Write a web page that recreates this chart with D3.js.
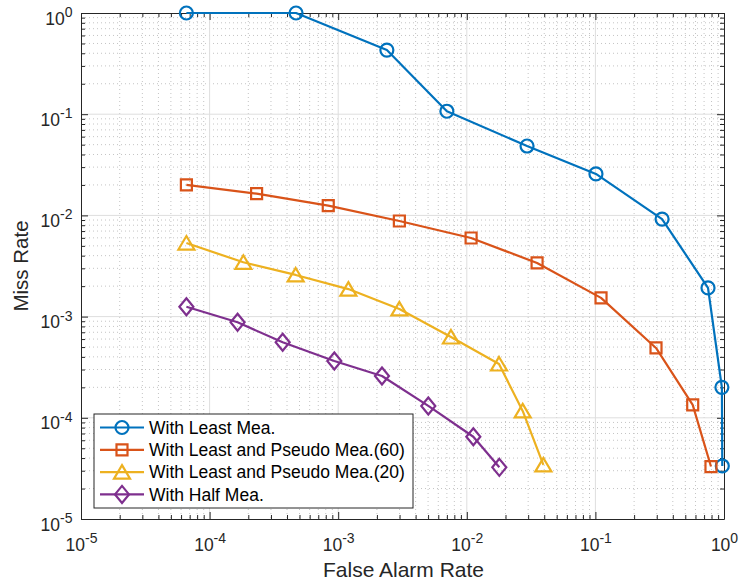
<!DOCTYPE html>
<html>
<head>
<meta charset="utf-8">
<script src="https://cdn.jsdelivr.net/npm/d3@7"></script>
<style>
  html, body { margin: 0; padding: 0; background: #fff; }
  svg { display: block; font-family: "Liberation Sans", Arial, Helvetica, sans-serif; }
</style>
</head>
<body>
<svg id="chart" width="739" height="586"></svg>
<script>
// ---- data ----
const seriesNames = ["With Least Mea.", "With Least and Pseudo Mea.(60)", "With Least and Pseudo Mea.(20)", "With Half Mea."];
const leastFA   = [6.6e-5, 4.7e-4, 2.39e-3, 7.0e-3, 0.0294, 0.101, 0.33, 0.751, 0.963, 0.97];
const leastMR   = [1.0, 1.0, 0.43, 0.107, 0.0485, 0.0257, 9.2e-3, 1.92e-3, 2.0e-4, 3.34e-5];
const pseudo60FA = [6.6e-5, 2.32e-4, 8.37e-4, 2.99e-3, 0.0108, 0.0352, 0.1106, 0.296, 0.571, 0.792];
const pseudo60MR = [0.0200, 0.0164, 0.0125, 8.8e-3, 5.98e-3, 3.39e-3, 1.53e-3, 4.9e-4, 1.34e-4, 3.3e-5];
const pseudo20FA = [6.6e-5, 1.83e-4, 4.67e-4, 1.2e-3, 2.99e-3, 7.53e-3, 0.0178, 0.0272, 0.0394];
const pseudo20MR = [5.33e-3, 3.44e-3, 2.58e-3, 1.87e-3, 1.19e-3, 6.29e-4, 3.4e-4, 1.17e-4, 3.42e-5];
const halfFA = [6.6e-5, 1.65e-4, 3.7e-4, 9.33e-4, 2.19e-3, 5.02e-3, 0.01124, 0.0179];
const halfMR = [1.25e-3, 8.78e-4, 5.57e-4, 3.64e-4, 2.59e-4, 1.31e-4, 6.5e-5, 3.24e-5];
const xTickExps = [-5, -4, -3, -2, -1, 0];
const yTickExps = [-5, -4, -3, -2, -1, 0];
const xLabel = "False Alarm Rate";
const yLabel = "Miss Rate";

const colors = ["#0072BD", "#D95319", "#EDB120", "#7E2F8E"];
const markers = ["circle", "square", "triangle", "diamond"];
const series = [
  {name: seriesNames[0], fa: leastFA, mr: leastMR},
  {name: seriesNames[1], fa: pseudo60FA, mr: pseudo60MR},
  {name: seriesNames[2], fa: pseudo20FA, mr: pseudo20MR},
  {name: seriesNames[3], fa: halfFA, mr: halfMR}
];

// ---- layout ----
const L = 81, R = 724, T = 13, B = 519;
const svg = d3.select("#chart");
const x = d3.scaleLog().domain([1e-5, 1]).range([L, R]);
const y = d3.scaleLog().domain([1e-5, 1]).range([B, T]);

const majorX = xTickExps.map(e => Math.pow(10, e));
const majorY = yTickExps.map(e => Math.pow(10, e));
const minorVals = [];
for (let e = -5; e < 0; e++) for (let k = 2; k <= 9; k++) minorVals.push(k * Math.pow(10, e));

// ---- grid ----
const grid = svg.append("g");
grid.selectAll(".mgx").data(minorVals).join("line")
  .attr("x1", d => x(d)).attr("x2", d => x(d)).attr("y1", T).attr("y2", B)
  .attr("stroke", "#c4c4c4").attr("stroke-width", 1).attr("stroke-dasharray", "1,3");
grid.selectAll(".mgy").data(minorVals).join("line")
  .attr("y1", d => y(d)).attr("y2", d => y(d)).attr("x1", L).attr("x2", R)
  .attr("stroke", "#c4c4c4").attr("stroke-width", 1).attr("stroke-dasharray", "1,3");
grid.selectAll(".Mgx").data(majorX.slice(1, -1)).join("line")
  .attr("x1", d => x(d)).attr("x2", d => x(d)).attr("y1", T).attr("y2", B)
  .attr("stroke", "#dedede").attr("stroke-width", 1);
grid.selectAll(".Mgy").data(majorY.slice(1, -1)).join("line")
  .attr("y1", d => y(d)).attr("y2", d => y(d)).attr("x1", L).attr("x2", R)
  .attr("stroke", "#dedede").attr("stroke-width", 1);

// ---- axes ----
function supLabels(sel) {
  sel.selectAll("text").each(function(d) {
    const t = d3.select(this);
    const e = Math.round(Math.log10(d));
    t.text(null);
    t.append("tspan").text("10");
    t.append("tspan").attr("font-size", 14).attr("dy", -7.5).text(String(e));
  });
}
const axisColor = "#262626";
function styleAxis(g) {
  g.selectAll("path.domain").attr("stroke", axisColor).attr("stroke-width", 1);
  g.selectAll(".tick line").attr("stroke", axisColor);
  g.selectAll("text").attr("fill", axisColor).attr("font-size", 17.5);
}
// bottom
const gB = svg.append("g").attr("transform", `translate(0,${B})`)
  .call(d3.axisBottom(x).tickValues(majorX).tickSizeInner(-7).tickSizeOuter(0).tickPadding(0));
styleAxis(gB); supLabels(gB);
gB.selectAll("text").attr("y", 31.7).attr("dy", 0).attr("text-anchor", "middle");
svg.append("g").attr("transform", `translate(0,${B})`)
  .call(d3.axisBottom(x).tickValues(minorVals).tickSizeInner(-4).tickSizeOuter(0).tickFormat(""))
  .call(styleAxis).select("path.domain").remove();
// top
const gT = svg.append("g").attr("transform", `translate(0,${T})`)
  .call(d3.axisTop(x).tickValues(majorX).tickSizeInner(-7).tickSizeOuter(0).tickFormat(""));
styleAxis(gT);
svg.append("g").attr("transform", `translate(0,${T})`)
  .call(d3.axisTop(x).tickValues(minorVals).tickSizeInner(-4).tickSizeOuter(0).tickFormat(""))
  .call(styleAxis).select("path.domain").remove();
// left
const gL = svg.append("g").attr("transform", `translate(${L},0)`)
  .call(d3.axisLeft(y).tickValues(majorY).tickSizeInner(-7).tickSizeOuter(0).tickPadding(8.5));
styleAxis(gL); supLabels(gL);
gL.selectAll("text").attr("dy", 11);
svg.append("g").attr("transform", `translate(${L},0)`)
  .call(d3.axisLeft(y).tickValues(minorVals).tickSizeInner(-4).tickSizeOuter(0).tickFormat(""))
  .call(styleAxis).select("path.domain").remove();
// right
const gR = svg.append("g").attr("transform", `translate(${R},0)`)
  .call(d3.axisRight(y).tickValues(majorY).tickSizeInner(-7).tickSizeOuter(0).tickFormat(""));
styleAxis(gR);
svg.append("g").attr("transform", `translate(${R},0)`)
  .call(d3.axisRight(y).tickValues(minorVals).tickSizeInner(-4).tickSizeOuter(0).tickFormat(""))
  .call(styleAxis).select("path.domain").remove();

// axis labels
svg.append("text").attr("x", (L + R) / 2 + 1).attr("y", 577).attr("text-anchor", "middle")
  .attr("font-size", 21).attr("fill", axisColor).text(xLabel);
svg.append("text").attr("transform", `translate(28,${(T + B) / 2}) rotate(-90)`)
  .attr("text-anchor", "middle").attr("font-size", 20.5).attr("fill", axisColor).text(yLabel);

// ---- markers ----
function markerPath(type) {
  if (type === "square") return "M-5.5,-5.5H5.5V5.5H-5.5Z";
  if (type === "triangle") return "M0,-7L8,6.5H-8Z";
  if (type === "diamond") return "M0,-8.5L7,0L0,8.5L-7,0Z";
  return d3.symbol(d3.symbolCircle, Math.PI * 6.5 * 6.5)();
}

// ---- series ----
const line = d3.line().x(d => x(d[0])).y(d => y(d[1]));
series.forEach((s, i) => {
  const pts = s.fa.map((v, j) => [v, s.mr[j]]);
  const g = svg.append("g");
  g.append("path").datum(pts).attr("d", line).attr("fill", "none")
    .attr("stroke", colors[i]).attr("stroke-width", 2.2).attr("stroke-linejoin", "round");
  g.selectAll("path.m").data(pts).join("path").attr("class", "m")
    .attr("transform", d => `translate(${x(d[0])},${y(d[1])})`)
    .attr("d", markerPath(markers[i])).attr("fill", "none")
    .attr("stroke", colors[i]).attr("stroke-width", 2.2);
});

// ---- legend ----
const lg = svg.append("g");
lg.append("rect").attr("x", 94).attr("y", 414).attr("width", 319).attr("height", 94)
  .attr("fill", "#fff").attr("stroke", axisColor).attr("stroke-width", 1);
series.forEach((s, i) => {
  const cy = 427.5 + i * 22.3;
  lg.append("line").attr("x1", 100).attr("x2", 144).attr("y1", cy).attr("y2", cy)
    .attr("stroke", colors[i]).attr("stroke-width", 2.2);
  lg.append("path").attr("transform", `translate(122,${cy})`).attr("d", markerPath(markers[i]))
    .attr("fill", "none").attr("stroke", colors[i]).attr("stroke-width", 2.2);
  lg.append("text").attr("x", 149).attr("y", cy).attr("dy", "0.36em")
    .attr("font-size", 17.5).attr("fill", "#000").text(s.name);
});
</script>
</body>
</html>
